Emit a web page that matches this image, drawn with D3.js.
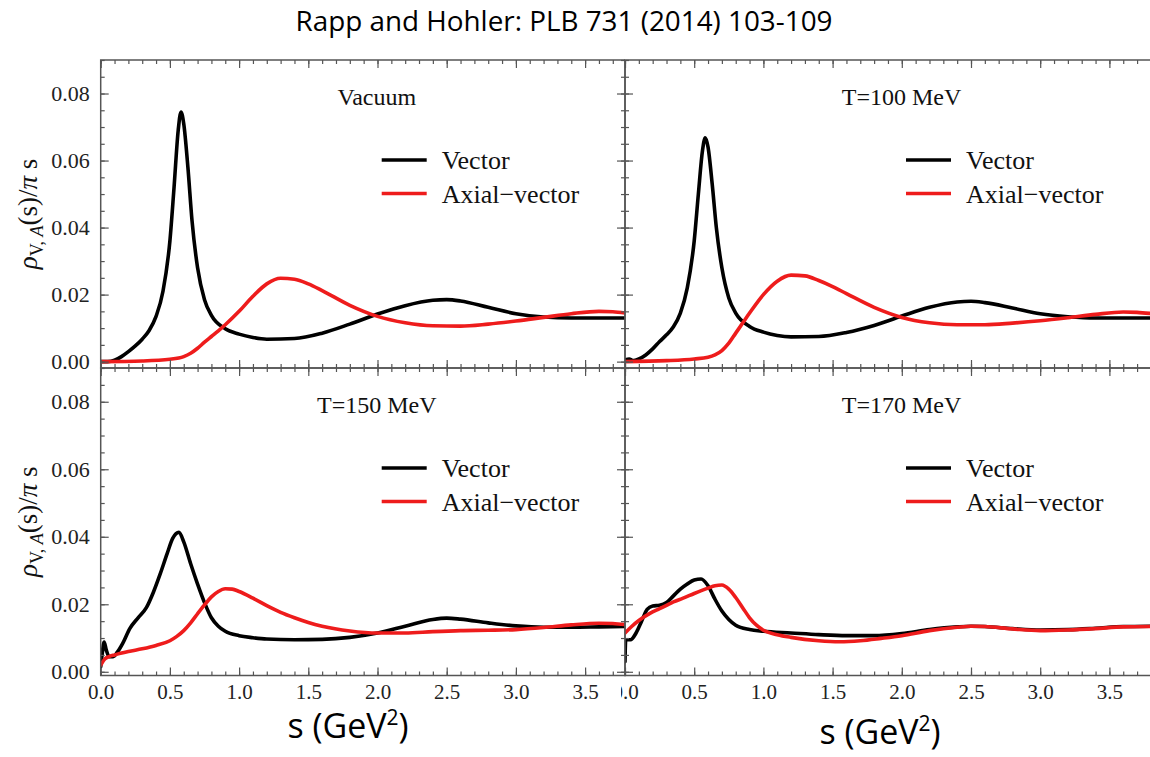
<!DOCTYPE html>
<html><head><meta charset="utf-8">
<script src="https://cdn.jsdelivr.net/npm/d3@7"></script>
<style>body{margin:0;background:#fff}</style>
</head><body><svg id="c" width="1150" height="757"></svg>
<script>
const chartTitle = "Rapp and Hohler: PLB 731 (2014) 103-109";
const panelLabels = ["Vacuum", "T=100 MeV", "T=150 MeV", "T=170 MeV"];
const seriesNames = ["Vector", "Axial\u2212vector"];
const xMajorTicks = [0, 0.5, 1.0, 1.5, 2.0, 2.5, 3.0, 3.5];
const yMajorTicks = [0, 0.02, 0.04, 0.06, 0.08];
const xTitle = "s (GeV";

// [s (GeV^2), rho/(pi s)]
const vacuumVector = [[0,0],[0.05,0],[0.1,0.0004],[0.15,0.0015],[0.2,0.003],[0.25,0.0047],[0.3,0.0067],[0.35,0.0093],[0.4,0.0135],[0.45,0.021],[0.5,0.036],[0.53,0.052],[0.56,0.069],[0.58,0.0745],[0.6,0.071],[0.63,0.058],[0.66,0.042],[0.7,0.028],[0.75,0.0185],[0.8,0.0138],[0.9,0.0098],[1.0,0.0082],[1.1,0.0072],[1.2,0.0067],[1.4,0.0069],[1.6,0.0085],[1.8,0.0112],[2.0,0.0142],[2.2,0.0167],[2.4,0.0183],[2.5,0.0185],[2.6,0.0181],[2.8,0.0162],[3.0,0.0143],[3.2,0.0133],[3.4,0.013],[3.6,0.013],[3.79,0.013]];
const vacuumAxial = [[0,0],[0.3,0.0002],[0.5,0.0007],[0.6,0.0015],[0.65,0.0025],[0.7,0.004],[0.75,0.0058],[0.8,0.0075],[0.85,0.0092],[0.9,0.011],[1.0,0.015],[1.1,0.0195],[1.2,0.0232],[1.3,0.0249],[1.4,0.0246],[1.5,0.0232],[1.6,0.0212],[1.8,0.0168],[2.0,0.0135],[2.2,0.0116],[2.4,0.0107],[2.6,0.0106],[2.8,0.0112],[3.0,0.0121],[3.2,0.0132],[3.4,0.0143],[3.6,0.015],[3.7,0.0149],[3.79,0.0145]];
const t100Vector = [[0,0.0005],[0.03,0.0008],[0.06,0.0003],[0.1,0.0008],[0.15,0.002],[0.2,0.0038],[0.25,0.006],[0.3,0.008],[0.35,0.0104],[0.4,0.0145],[0.45,0.022],[0.5,0.036],[0.53,0.05],[0.56,0.063],[0.58,0.0668],[0.6,0.064],[0.63,0.053],[0.66,0.04],[0.7,0.028],[0.75,0.019],[0.8,0.0145],[0.9,0.0105],[1.0,0.0088],[1.1,0.0078],[1.2,0.0074],[1.4,0.0075],[1.6,0.0087],[1.8,0.0108],[2.0,0.0136],[2.2,0.0162],[2.4,0.0178],[2.5,0.018],[2.6,0.0176],[2.8,0.016],[3.0,0.0143],[3.2,0.0134],[3.4,0.013],[3.6,0.013],[3.79,0.013]];
const t100Axial = [[0,0],[0.3,0.0003],[0.5,0.0008],[0.6,0.0013],[0.65,0.002],[0.7,0.0033],[0.75,0.0055],[0.8,0.0085],[0.85,0.0115],[0.9,0.0145],[1.0,0.02],[1.1,0.024],[1.2,0.0258],[1.3,0.0256],[1.4,0.0242],[1.5,0.0224],[1.6,0.0203],[1.8,0.0162],[2.0,0.0132],[2.2,0.0116],[2.4,0.011],[2.6,0.011],[2.8,0.0115],[3.0,0.0122],[3.2,0.0131],[3.4,0.0141],[3.6,0.0148],[3.7,0.0147],[3.79,0.0144]];
const t150Vector = [[0,0.0015],[0.01,0.005],[0.025,0.0088],[0.04,0.0065],[0.06,0.0045],[0.09,0.0045],[0.12,0.0058],[0.16,0.0085],[0.21,0.0128],[0.27,0.016],[0.33,0.019],[0.38,0.0235],[0.43,0.029],[0.48,0.035],[0.52,0.0395],[0.565,0.0413],[0.6,0.0385],[0.65,0.032],[0.7,0.026],[0.75,0.0205],[0.8,0.016],[0.85,0.0135],[0.9,0.012],[1.0,0.0107],[1.1,0.0101],[1.2,0.0097],[1.4,0.0095],[1.6,0.0096],[1.8,0.0102],[2.0,0.0115],[2.2,0.0135],[2.4,0.0155],[2.5,0.0159],[2.6,0.0156],[2.8,0.0145],[3.0,0.0136],[3.2,0.0132],[3.4,0.0132],[3.6,0.0133],[3.79,0.0134]];
const t150Axial = [[0,0.002],[0.03,0.0038],[0.06,0.0045],[0.1,0.005],[0.2,0.006],[0.3,0.0068],[0.4,0.0078],[0.5,0.0092],[0.55,0.0105],[0.6,0.0122],[0.65,0.0145],[0.7,0.0172],[0.75,0.0198],[0.8,0.0222],[0.85,0.0238],[0.9,0.0246],[0.95,0.0245],[1.0,0.0238],[1.1,0.0218],[1.2,0.0196],[1.3,0.0176],[1.4,0.016],[1.5,0.0146],[1.6,0.0135],[1.8,0.0121],[2.0,0.0115],[2.2,0.0115],[2.4,0.0119],[2.6,0.0122],[2.8,0.0123],[3.0,0.0125],[3.2,0.0131],[3.4,0.0139],[3.6,0.0144],[3.7,0.0143],[3.79,0.014]];
const t170Vector = [[0,0.003],[0.005,0.0095],[0.04,0.0095],[0.08,0.0115],[0.12,0.015],[0.16,0.0185],[0.2,0.0195],[0.25,0.0197],[0.3,0.0205],[0.35,0.0225],[0.4,0.0245],[0.45,0.026],[0.5,0.0272],[0.55,0.0275],[0.6,0.0255],[0.65,0.0215],[0.7,0.018],[0.75,0.0155],[0.8,0.0138],[0.9,0.0125],[1.0,0.012],[1.2,0.0115],[1.4,0.011],[1.6,0.0107],[1.8,0.0107],[2.0,0.0113],[2.2,0.0125],[2.4,0.0133],[2.5,0.0135],[2.6,0.0134],[2.8,0.0128],[3.0,0.0124],[3.2,0.0125],[3.4,0.0129],[3.6,0.0134],[3.79,0.0135]];
const t170Axial = [[0,0.0115],[0.05,0.0135],[0.1,0.0152],[0.18,0.0173],[0.25,0.0187],[0.3,0.0197],[0.35,0.0207],[0.42,0.0218],[0.5,0.0232],[0.6,0.0248],[0.65,0.0255],[0.7,0.0257],[0.75,0.0245],[0.8,0.022],[0.85,0.019],[0.9,0.016],[0.95,0.0138],[1.0,0.0123],[1.1,0.011],[1.2,0.0102],[1.4,0.0092],[1.55,0.0089],[1.7,0.0092],[1.85,0.0099],[2.0,0.0107],[2.2,0.0122],[2.4,0.0132],[2.5,0.0135],[2.6,0.0134],[2.8,0.0127],[3.0,0.0122],[3.2,0.0124],[3.4,0.0128],[3.6,0.0133],[3.79,0.0134]];

const panelData = [[vacuumVector, vacuumAxial],[t100Vector, t100Axial],[t150Vector, t150Axial],[t170Vector, t170Axial]];
const colors = ["#000000", "#ee1c1c"];

const svg = d3.select("#c");
const frameColor = "#555";
const serif = "'Liberation Serif','DejaVu Serif',serif";
const sans = "'Open Sans','Noto Sans',sans-serif";

const layout = [
  {x0:100.7, x1:625, y0:60, y1:368, yDom:[-0.0019,0.09], showX:false, showY:true},
  {x0:625, x1:1150, y0:60, y1:368, yDom:[-0.0019,0.09], showX:false, showY:false},
  {x0:100.7, x1:625, y0:368, y1:675.5, yDom:[-0.0011,0.09], showX:true, showY:true},
  {x0:625, x1:1150, y0:368, y1:675.5, yDom:[-0.0011,0.09], showX:true, showY:false}
];

const defs = svg.append("defs");
// clip in the local frame of the bottom-axis group (translated by y1)
defs.append("clipPath").attr("id","xlabclip").append("rect").attr("x",621).attr("y",-20).attr("width",600).attr("height",80);

const xMinor = d3.range(0, 3.8, 0.1).map(v => +v.toFixed(2));
const yMinor = d3.range(0, 0.0901, 0.005).map(v => +v.toFixed(3));

layout.forEach((L, i) => {
  const x = d3.scaleLinear().domain([0, (L.x1 - L.x0) / 138.4]).range([L.x0, L.x1]);
  const y = d3.scaleLinear().domain(L.yDom).range([L.y1, L.y0]);
  const g = svg.append("g");
  const cid = "clip" + i;
  defs.append("clipPath").attr("id", cid).append("rect")
    .attr("x", L.x0).attr("y", L.y0).attr("width", L.x1 - L.x0).attr("height", L.y1 - L.y0);

  const line = d3.line().x(d => x(d[0])).y(d => y(d[1])).curve(d3.curveMonotoneX);
  panelData[i].forEach((ser, k) => {
    g.append("path").datum(ser).attr("d", line).attr("clip-path", `url(#${cid})`)
      .attr("fill","none").attr("stroke", colors[k]).attr("stroke-width", 3.6)
      .attr("stroke-linejoin","round").attr("stroke-linecap","round");
  });

  const styleAxis = sel => { sel.select(".domain").remove(); sel.selectAll("line").attr("stroke", frameColor).attr("stroke-width", 1.2); };
  const bot = g.append("g").attr("transform", `translate(0,${L.y1})`);
  bot.append("g").call(d3.axisBottom(x).tickValues(xMinor).tickSize(-4).tickFormat("")).call(styleAxis);
  const botMaj = bot.append("g").call(d3.axisBottom(x).tickValues(xMajorTicks).tickSize(-8).tickPadding(9)
      .tickFormat(L.showX ? d3.format(".1f") : "")).call(styleAxis);
  botMaj.selectAll("text").attr("font-family", serif).attr("font-size", 21).attr("fill", "#222");
  if (!L.showY && L.showX) botMaj.attr("clip-path", "url(#xlabclip)");
  const top = g.append("g").attr("transform", `translate(0,${L.y0})`);
  top.append("g").call(d3.axisTop(x).tickValues(xMinor).tickSize(-4).tickFormat("")).call(styleAxis);
  top.append("g").call(d3.axisTop(x).tickValues(xMajorTicks).tickSize(-8).tickFormat("")).call(styleAxis);

  const lft = g.append("g").attr("transform", `translate(${L.x0},0)`);
  lft.append("g").call(d3.axisLeft(y).tickValues(yMinor).tickSize(-4).tickFormat("")).call(styleAxis);
  const lftMaj = lft.append("g").call(d3.axisLeft(y).tickValues(yMajorTicks).tickSize(-8).tickPadding(11)
      .tickFormat(L.showY ? d3.format(".2f") : "")).call(styleAxis);
  lftMaj.selectAll("text").attr("font-family", serif).attr("font-size", 22).attr("fill", "#222");
  if (L.x1 < 1150) {
    const rgt = g.append("g").attr("transform", `translate(${L.x1},0)`);
    rgt.append("g").call(d3.axisRight(y).tickValues(yMinor).tickSize(-4).tickFormat("")).call(styleAxis);
    rgt.append("g").call(d3.axisRight(y).tickValues(yMajorTicks).tickSize(-8).tickFormat("")).call(styleAxis);
  }

  g.append("path").attr("d", `M${L.x1},${L.y0}H${L.x0}V${L.y1}H${L.x1}` + (L.x1 < 1150 ? `V${L.y0}` : ""))
    .attr("fill","none").attr("stroke", frameColor).attr("stroke-width", 1.5);

  const cx = (L.x0 + L.x1) / 2 + 14;
  g.append("text").attr("x", cx).attr("y", L.y0 + 45).attr("text-anchor","middle")
    .attr("font-family", serif).attr("font-size", 24).attr("fill","#111").text(panelLabels[i]);

  const lx = L.x0 + 281, ly = L.y0 + 100;
  seriesNames.forEach((nm, k) => {
    g.append("line").attr("x1", lx).attr("x2", lx + 45).attr("y1", ly + k*33.5).attr("y2", ly + k*33.5)
      .attr("stroke", colors[k]).attr("stroke-width", 3.6);
    g.append("text").attr("x", lx + 60).attr("y", ly + k*33.5 + 9).attr("font-family", serif)
      .attr("font-size", 26).attr("fill","#111").text(nm);
  });

  if (L.showY) {
    const cy = (L.y0 + L.y1) / 2;
    const t = svg.append("text").attr("transform", `translate(37,${cy}) rotate(-90)`).attr("text-anchor","middle")
      .attr("font-family", serif).attr("font-size", 27).attr("fill","#111");
    t.append("tspan").attr("font-style","italic").text("\u03c1");
    t.append("tspan").attr("font-size", 18).attr("dy", 6).text("V, ");
    t.append("tspan").attr("font-size", 18).attr("font-style","italic").text("A");
    t.append("tspan").attr("dy", -6).text("(s)/");
    t.append("tspan").attr("font-style","italic").text("\u03c0");
    t.append("tspan").text(" s");
  }

  if (L.showX) {
    const t = svg.append("text").attr("x", i === 3 ? 880 : 348).attr("y", i === 3 ? 744 : 738)
      .attr("text-anchor","middle").attr("font-family", sans).attr("font-size", 34).attr("fill","#000");
    t.append("tspan").text(xTitle);
    t.append("tspan").attr("font-size", 21).attr("dy", -13).text("2");
    t.append("tspan").attr("dy", 13).text(")");
  }
});

svg.append("text").attr("x", 564).attr("y", 31).attr("text-anchor","middle")
  .attr("font-family", sans).attr("font-size", 27).attr("fill","#000")
  .attr("textLength", 537).attr("lengthAdjust","spacingAndGlyphs").text(chartTitle);
</script></body></html>
